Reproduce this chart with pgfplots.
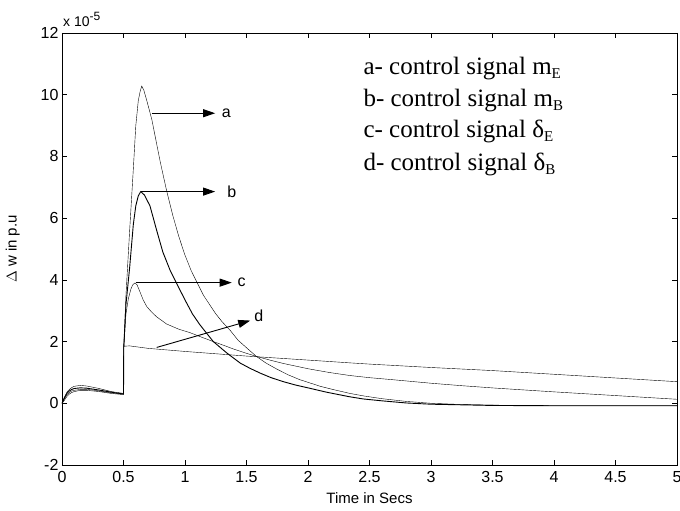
\documentclass[border=0pt]{standalone}
\usepackage{pgfplots}
\pgfplotsset{compat=1.18}
\usepackage{fontspec}
\setmainfont{Liberation Serif}
\newfontfamily\arialfont{Liberation Sans}
\usetikzlibrary{arrows.meta}
\newcommand{\sub}[1]{\raisebox{-4pt}{\fontsize{15}{15}\selectfont #1}}
\begin{document}
\begin{tikzpicture}
\begin{axis}[
  name=ax,
  scale only axis,
  width=615pt, height=432pt,
  xmin=0, xmax=5, ymin=-2, ymax=12,
  xtick={0,0.5,1,1.5,2,2.5,3,3.5,4,4.5,5},
  xticklabels={0,0.5,1,1.5,2,2.5,3,3.5,4,4.5,5},
  ytick={-2,0,2,4,6,8,10,12},
  yticklabels={-2,0,2,4,6,8,10,12},
  tick align=inside,
  tick pos=both,
  major tick length=5pt,
  tick style={black, line width=0.6pt},
  axis line style={black, line width=0.8pt},
  ticklabel style={font=\arialfont\fontsize{16}{16}\selectfont},
  xticklabel style={yshift=-3pt},
  /pgf/number format/assume math mode=true,
  xlabel={Time in Secs},
  ylabel={$\Delta$ w in p.u},
  label style={font=\arialfont\fontsize{15}{15}\selectfont},
  xlabel style={yshift=-3pt},
  ylabel style={yshift=14pt},
  cycle list={{black, line width=0.9pt, no markers}},
]
% a - control signal m_E
\addplot coordinates {
(0,0) (0.02,0.15) (0.04,0.28) (0.06,0.35) (0.08,0.4) (0.1,0.42) (0.15,0.45) (0.2,0.45) (0.25,0.43) (0.3,0.4) (0.4,0.34) (0.5,0.3)
(0.502,1.8) (0.52,3.5) (0.55,5.6) (0.58,7.6) (0.6,9.0) (0.62,9.8) (0.635,10.1) (0.648,10.28) (0.665,10.15) (0.69,9.8) (0.73,9.2)
(0.77,8.4) (0.8,7.8) (0.85,6.9) (0.9,6.1) (0.95,5.4) (1.0,4.8) (1.05,4.3) (1.1,3.9) (1.15,3.5) (1.2,3.2) (1.25,2.9) (1.3,2.65) (1.37,2.35)
(1.43,2.05) (1.5,1.8) (1.58,1.52) (1.66,1.3) (1.75,1.1) (1.84,0.92) (1.93,0.77) (2.1,0.55) (2.2,0.45) (2.34,0.32) (2.45,0.24) (2.6,0.15) (2.8,0.06) (3,0.0) (3.25,-0.04) (3.5,-0.06) (4,-0.08) (5,-0.08)
};
% b - control signal m_B
\addplot coordinates {
(0,0) (0.02,0.18) (0.04,0.32) (0.06,0.4) (0.08,0.45) (0.1,0.48) (0.15,0.5) (0.2,0.49) (0.25,0.46) (0.3,0.43) (0.4,0.36) (0.5,0.3)
(0.502,1.8) (0.52,3.2) (0.55,4.4) (0.58,5.8) (0.6,6.4) (0.62,6.72) (0.64,6.86) (0.67,6.75) (0.715,6.4)
(0.77,5.6) (0.82,4.9) (0.88,4.3) (0.93,3.9) (1.0,3.35) (1.06,2.9) (1.12,2.55) (1.18,2.25) (1.23,2.0) (1.34,1.63) (1.45,1.3) (1.53,1.13) (1.61,0.98)
(1.7,0.83) (1.8,0.7) (1.9,0.59) (2.0,0.5) (2.15,0.36) (2.34,0.21) (2.45,0.14) (2.6,0.08) (2.8,0.01) (3,-0.03) (3.5,-0.07) (4,-0.08) (5,-0.08)
};
% c - control signal delta_E
\addplot coordinates {
(0,0) (0.02,0.2) (0.04,0.36) (0.06,0.45) (0.08,0.51) (0.1,0.55) (0.15,0.58) (0.2,0.56) (0.25,0.52) (0.3,0.48) (0.4,0.38) (0.5,0.32)
(0.502,1.8) (0.52,2.9) (0.54,3.4) (0.56,3.7) (0.575,3.84) (0.593,3.9) (0.61,3.84) (0.63,3.65) (0.66,3.35) (0.69,3.13) (0.73,2.95) (0.77,2.8) (0.85,2.57)
(0.95,2.4) (1.04,2.29) (1.13,2.15) (1.23,2.0) (1.32,1.87) (1.4,1.75) (1.5,1.62) (1.58,1.52) (1.7,1.39) (1.8,1.29) (2.0,1.12) (2.17,1.0) (2.34,0.9) (2.5,0.83) (2.7,0.76)
(3.0,0.65) (3.25,0.57) (3.53,0.49) (4,0.37) (4.5,0.25) (5,0.13)
};
% d - control signal delta_B
\addplot coordinates {
(0,0) (0.02,0.1) (0.04,0.22) (0.06,0.3) (0.08,0.35) (0.1,0.38) (0.15,0.42) (0.2,0.42) (0.25,0.4) (0.3,0.38) (0.4,0.32) (0.5,0.28)
(0.502,1.85) (0.55,1.86) (0.7,1.78) (1.0,1.68) (1.5,1.53) (2.0,1.4) (2.34,1.31) (2.5,1.27)
(3.0,1.16) (3.5,1.06) (4.0,0.94) (4.5,0.82) (5,0.70)
};
% annotation arrows
\draw[black, line width=0.9pt, -{Triangle[length=12pt,width=8pt]}] (axis cs:0.73,9.4) -- (axis cs:1.245,9.4);
\draw[black, line width=0.9pt, -{Triangle[length=12pt,width=8pt]}] (axis cs:0.64,6.86) -- (axis cs:1.245,6.86);
\draw[black, line width=0.9pt, -{Triangle[length=12pt,width=8pt]}] (axis cs:0.6,3.91) -- (axis cs:1.38,3.91);
\draw[black, line width=0.9pt, -{Triangle[length=12pt,width=8pt]}] (axis cs:0.77,1.81) -- (axis cs:1.53,2.68);
\node[font=\arialfont\fontsize{16}{16}\selectfont] at (axis cs:1.335,9.4) {a};
\node[font=\arialfont\fontsize{16}{16}\selectfont] at (axis cs:1.38,6.86) {b};
\node[font=\arialfont\fontsize{16}{16}\selectfont] at (axis cs:1.46,3.91) {c};
\node[font=\arialfont\fontsize{16}{16}\selectfont] at (axis cs:1.6,2.85) {d};
% legend text
\node[anchor=base west, inner sep=0pt, font=\fontsize{25}{25}\selectfont] at (axis cs:2.45,10.64) {a- control signal m\sub{E}};
\node[anchor=base west, inner sep=0pt, font=\fontsize{25}{25}\selectfont] at (axis cs:2.45,9.63) {b- control signal m\sub{B}};
\node[anchor=base west, inner sep=0pt, font=\fontsize{25}{25}\selectfont] at (axis cs:2.45,8.60) {c- control signal δ\sub{E}};
\node[anchor=base west, inner sep=0pt, font=\fontsize{25}{25}\selectfont] at (axis cs:2.45,7.56) {d- control signal δ\sub{B}};
\end{axis}
\node[anchor=south west, inner sep=0pt, font=\arialfont\fontsize{14}{14}\selectfont] at ([shift={(1pt,6pt)}]ax.north west) {x 10\raisebox{6pt}{\fontsize{12}{12}\selectfont -5}};
\pgfresetboundingbox
\path ([shift={(-62pt,-46pt)}]ax.south west) rectangle ([shift={(3pt,33pt)}]ax.north east);
\end{tikzpicture}
\end{document}
